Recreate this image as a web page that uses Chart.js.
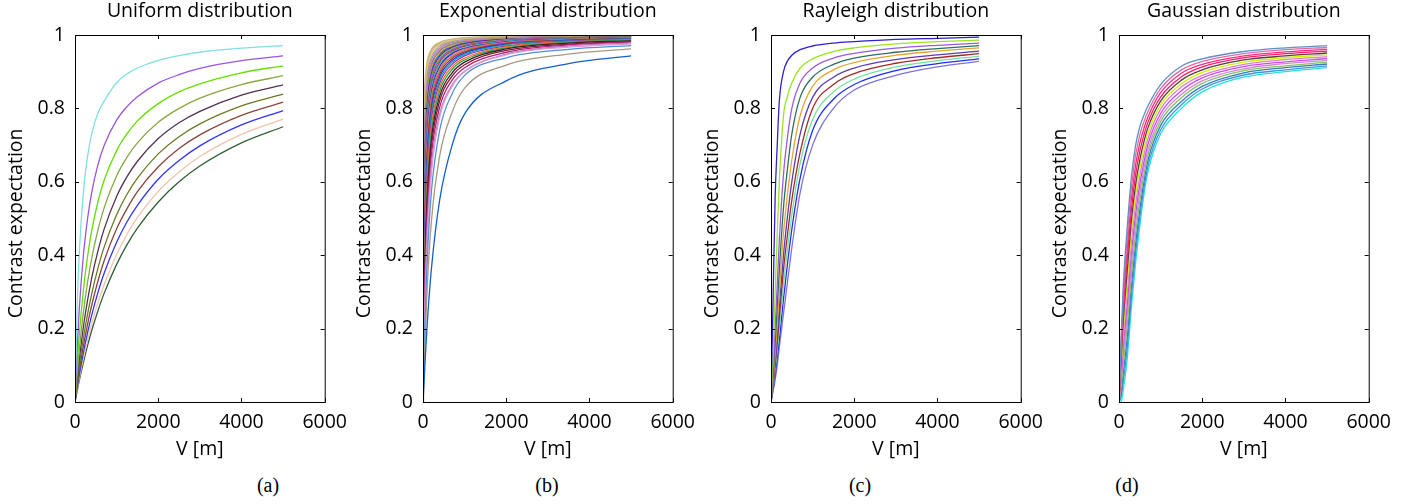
<!DOCTYPE html>
<html>
<head>
<meta charset="utf-8">
<script src="https://cdn.jsdelivr.net/npm/chart.js@4.4.0/dist/chart.umd.min.js"></script>
<style>
body { margin: 0; background: #fff; width: 1422px; height: 504px; position: relative; overflow: hidden; }
canvas { position: absolute; top: 0; }
.sub { position: absolute; top: 475px; font-family: "Liberation Serif", serif; font-size: 20px; line-height: 20px; color: #000; transform: translateX(-50%); }
</style>
</head>
<body>
<canvas id="chartUniform" style="left:1px" width="355" height="462"></canvas>
<canvas id="chartExponential" style="left:349px" width="355" height="462"></canvas>
<canvas id="chartRayleigh" style="left:697px" width="355" height="462"></canvas>
<canvas id="chartGaussian" style="left:1045px" width="355" height="462"></canvas>
<div class="sub" style="left:268px">(a)</div>
<div class="sub" style="left:547px">(b)</div>
<div class="sub" style="left:860px">(c)</div>
<div class="sub" style="left:1127px">(d)</div>
<script>
// values, V in metres
var xTicks = [0, 2000, 4000, 6000];
var yTicks = [0, 0.2, 0.4, 0.6, 0.8, 1];

// (a) uniform, top curve first
var uniformV = [0, 50, 100, 200, 300, 400, 550, 700, 1000, 1250, 1500, 2000, 2500, 3000, 4000, 5000];
var uniformCurves = [
  [0, .25, .40, .57, .668, .73, .787, .82, .87, .894, .91, .931, .944, .953, .964, .971],
  [0, .142, .249, .398, .498, .570, .646, .699, .768, .805, .832, .869, .892, .909, .930, .943],
  [0, .098, .179, .303, .395, .466, .545, .604, .685, .731, .766, .813, .845, .867, .897, .916],
  [0, .074, .138, .243, .325, .391, .468, .529, .616, .667, .706, .762, .800, .828, .865, .889],
  [0, .060, .113, .203, .276, .337, .411, .471, .560, .614, .656, .718, .761, .792, .836, .864],
  [0, .050, .094, .173, .238, .294, .364, .422, .510, .566, .610, .676, .723, .758, .807, .839],
  [0, .043, .082, .152, .211, .263, .329, .385, .472, .527, .573, .641, .691, .728, .781, .817],
  [0, .037, .072, .134, .188, .236, .298, .351, .435, .491, .536, .607, .658, .698, .755, .794],
  [0, .033, .063, .119, .168, .212, .270, .320, .402, .457, .503, .574, .627, .669, .729, .771],
  [0, .029, .057, .107, .153, .194, .248, .296, .375, .429, .474, .545, .600, .643, .706, .750]
];
var uniformColors = ['#80e0e0', '#9955dd', '#66dd00', '#88a844', '#553050', '#6a7a22', '#8a4438', '#3333ff', '#f0c4aa', '#2f6035'];

// (b) exponential, bottom curve first
var expV = [0, 20, 50, 100, 200, 400, 700, 1000, 2000, 3500, 5000];
var expCurves = [
  [0, .04, .11, .21, .36, .55, .70, .785, .875, .922, .943],
  [0, .07, .17, .31, .49, .67, .79, .855, .918, .948, .962],
  [0, .09, .22, .38, .57, .74, .84, .89, .938, .961, .971],
  [0, .11, .26, .43, .62, .775, .86, .90, .946, .967, .976],
  [0, .154, .313, .476, .645, .784, .864, .901, .948, .970, .978],
  [0, .169, .338, .505, .671, .803, .877, .911, .953, .973, .981],
  [0, .185, .362, .532, .694, .820, .888, .919, .958, .975, .983],
  [0, .200, .385, .556, .714, .833, .897, .926, .962, .978, .984],
  [0, .215, .407, .578, .733, .846, .906, .932, .965, .980, .986],
  [0, .230, .427, .599, .749, .857, .913, .937, .968, .981, .987],
  [0, .247, .450, .621, .766, .868, .920, .943, .970, .983, .988],
  [0, .263, .472, .641, .781, .877, .926, .947, .973, .984, .989],
  [0, .278, .490, .658, .794, .885, .931, .951, .975, .985, .990],
  [0, .294, .510, .676, .806, .893, .936, .954, .977, .986, .990],
  [0, .313, .532, .694, .820, .901, .941, .958, .978, .988, .991],
  [0, .328, .549, .709, .830, .907, .945, .961, .980, .988, .992],
  [0, .345, .568, .725, .840, .913, .949, .963, .981, .989, .992],
  [0, .364, .588, .741, .851, .920, .952, .966, .983, .990, .993],
  [0, .385, .610, .758, .862, .926, .956, .969, .984, .991, .994],
  [0, .408, .633, .775, .873, .932, .960, .972, .986, .992, .994],
  [0, .426, .649, .787, .881, .937, .963, .974, .987, .992, .995],
  [0, .444, .667, .800, .889, .941, .966, .976, .988, .993, .995],
  [0, .465, .685, .813, .897, .946, .968, .978, .989, .993, .995],
  [0, .488, .704, .826, .905, .950, .971, .979, .990, .994, .996],
  [0, .513, .725, .840, .913, .955, .974, .981, .991, .995, .996],
  [0, .541, .746, .855, .922, .959, .976, .983, .992, .995, .997],
  [0, .571, .769, .870, .930, .964, .979, .985, .993, .996, .997],
  [0, .606, .794, .885, .939, .969, .982, .987, .994, .996, .997],
  [0, .645, .820, .901, .948, .973, .985, .989, .995, .997, .998],
  [0, .690, .847, .917, .957, .978, .987, .991, .996, .997, .998]
];
var expColors = ['#1060c8', '#a89880', '#5090d8', '#d8a0d0', '#c070c0', '#b0207a', '#801838', '#402020', '#30a060', '#ff7020',
  '#8040c0', '#20a0a0', '#2040e0', '#d02040', '#909030', '#ff60b0', '#203080', '#40b0f0', '#905030', '#a050e0',
  '#60c040', '#802060', '#3060ff', '#d0b040', '#808080', '#e08080', '#9090e0', '#c0a070', '#d8c890', '#c8b880'];

// (c) rayleigh, top curve first
var rayV = [0, 50, 100, 150, 200, 300, 400, 500, 700, 1000, 1500, 2000, 3000, 4000, 5000];
var rayCurves = [
  [0, .28, .56, .70, .82, .90, .93, .945, .96, .97, .978, .982, .988, .991, .994],
  [0, .13, .30, .46, .60, .78, .835, .87, .91, .935, .955, .965, .976, .982, .986],
  [0, .09, .20, .32, .44, .62, .725, .80, .87, .91, .937, .95, .964, .972, .978],
  [0, .07, .16, .26, .36, .53, .64, .73, .83, .885, .92, .937, .953, .963, .971],
  [0, .06, .13, .21, .30, .46, .57, .66, .78, .86, .905, .925, .945, .956, .965],
  [0, .05, .11, .18, .26, .40, .51, .60, .73, .83, .885, .91, .933, .946, .956],
  [0, .045, .10, .16, .23, .36, .46, .55, .68, .80, .865, .895, .923, .938, .949],
  [0, .04, .09, .14, .20, .32, .42, .51, .65, .77, .845, .88, .913, .93, .942],
  [0, .035, .075, .12, .17, .28, .38, .47, .61, .74, .825, .865, .903, .922, .935],
  [0, .03, .06, .10, .15, .24, .33, .42, .57, .70, .80, .85, .89, .913, .928]
];
var rayColors = ['#3020d0', '#99e620', '#9a5cdc', '#2e6e60', '#e3a733', '#5a3cb4', '#a32a2a', '#70e49a', '#1c2ff0', '#7c74da'];

// (d) gaussian, top curve first
var gaussV = [0, 50, 100, 200, 300, 400, 500, 600, 700, 1000, 1500, 2000, 3000, 4000, 5000];
var gaussCurves = [
  [0, .17, .31, .48, .615, .70, .75, .782, .808, .865, .915, .935, .955, .965, .971],
  [0, .156, .287, .45, .585, .673, .728, .764, .793, .854, .905, .928, .949, .96, .966],
  [0, .142, .263, .42, .556, .647, .705, .746, .778, .843, .896, .92, .943, .954, .961],
  [0, .128, .24, .39, .526, .62, .683, .728, .764, .831, .886, .913, .938, .949, .956],
  [0, .113, .217, .36, .497, .593, .66, .71, .749, .82, .877, .905, .932, .943, .951],
  [0, .099, .193, .33, .467, .567, .638, .692, .734, .809, .867, .898, .926, .938, .946],
  [0, .085, .17, .30, .438, .54, .615, .674, .719, .798, .858, .89, .92, .933, .941],
  [0, .071, .147, .27, .408, .513, .593, .655, .704, .786, .848, .883, .914, .927, .936],
  [0, .057, .123, .24, .378, .487, .57, .637, .689, .775, .838, .875, .908, .922, .931],
  [0, .043, .10, .21, .349, .46, .548, .619, .675, .764, .829, .868, .903, .916, .926],
  [0, .028, .077, .18, .319, .433, .525, .601, .66, .753, .819, .86, .897, .911, .921],
  [0, .014, .053, .15, .29, .407, .503, .583, .645, .741, .81, .853, .891, .905, .916],
  [0, 0, .03, .12, .26, .38, .48, .565, .63, .73, .80, .845, .885, .90, .911]
];
var gaussColors = ['#5f8fc4', '#e66aa2', '#f0307f', '#ff1a6e', '#5a3e3e', '#c8f500', '#e080c8', '#c94cf0', '#d08ad0', '#86c45e', '#3a78c8', '#3a9ae0', '#20e5d5'];

var FONT = "'Open Sans', sans-serif";
var FS = 19.5;

// box with inward ticks, like the original
var framePlugin = {
  id: 'frame',
  afterDatasetsDraw: function(chart) {
    var ctx = chart.ctx, a = chart.chartArea, x = chart.scales.x, y = chart.scales.y;
    ctx.save();
    ctx.strokeStyle = '#000';
    ctx.lineWidth = 1;
    ctx.beginPath();
    xTicks.forEach(function(v) {
      var px = Math.round(x.getPixelForValue(v)) + 0.5;
      ctx.moveTo(px, a.bottom); ctx.lineTo(px, a.bottom - 4);
      ctx.moveTo(px, a.top); ctx.lineTo(px, a.top + 4);
    });
    yTicks.forEach(function(v) {
      var py = Math.round(y.getPixelForValue(v)) + 0.5;
      ctx.moveTo(a.left, py); ctx.lineTo(a.left + 4, py);
      ctx.moveTo(a.right, py); ctx.lineTo(a.right - 4, py);
    });
    ctx.stroke();
    ctx.strokeRect(a.left + 0.5, a.top + 0.5, a.right - a.left, a.bottom - a.top);
    ctx.restore();
  }
};

function makePanel(id, title, xs, curves, colors, widths) {
  var font = {family: FONT, size: FS, weight: 'normal'};
  new Chart(document.getElementById(id), {
    type: 'line',
    data: {
      datasets: curves.map(function(ys, i) {
        return {
          data: ys.map(function(v, j) { return {x: xs[j], y: v}; }),
          borderColor: colors[i],
          borderWidth: widths ? widths[i] : 1.3,
          pointRadius: 0,
          fill: false,
          cubicInterpolationMode: 'monotone'
        };
      })
    },
    options: {
      responsive: false,
      animation: false,
      devicePixelRatio: 1,
      layout: {padding: {left: 0, right: 31, top: 0, bottom: 0}},
      plugins: {
        legend: {display: false},
        tooltip: {enabled: false},
        title: {
          display: true, text: title, fullSize: false, color: '#000', font: font,
          padding: {top: 0, bottom: 11.6}
        }
      },
      scales: {
        x: {
          type: 'linear', min: 0, max: 6000,
          grid: {display: false, drawTicks: false},
          border: {display: false},
          ticks: {stepSize: 2000, padding: 9, color: '#000', font: font, maxRotation: 0,
            callback: function(v) { return String(v); }},
          title: {display: true, text: 'V [m]', color: '#000', font: font, padding: {top: 0, bottom: 1.3}},
          afterFit: function(s) { s.height = 60; }
        },
        y: {
          min: 0, max: 1,
          grid: {display: false, drawTicks: false},
          border: {display: false},
          ticks: {stepSize: 0.2, padding: 10, color: '#000', font: font,
            callback: function(v) { return String(Math.round(v * 10) / 10); }},
          // en space at the end nudges the rotated label down a little, as in the original
          title: {display: true, text: 'Contrast expectation\u2002', color: '#000', font: font, padding: {top: 3.6, bottom: 0}},
          afterFit: function(s) { s.width = 74; }
        }
      }
    },
    plugins: [framePlugin]
  });
}

var expWidths = expCurves.map(function(c, i) { return i === expCurves.length - 1 ? 2.6 : 1.3; });

makePanel('chartUniform', 'Uniform distribution', uniformV, uniformCurves, uniformColors);
makePanel('chartExponential', 'Exponential distribution', expV, expCurves, expColors, expWidths);
makePanel('chartRayleigh', 'Rayleigh distribution', rayV, rayCurves, rayColors);
makePanel('chartGaussian', 'Gaussian distribution', gaussV, gaussCurves, gaussColors);
</script>
</body>
</html>
